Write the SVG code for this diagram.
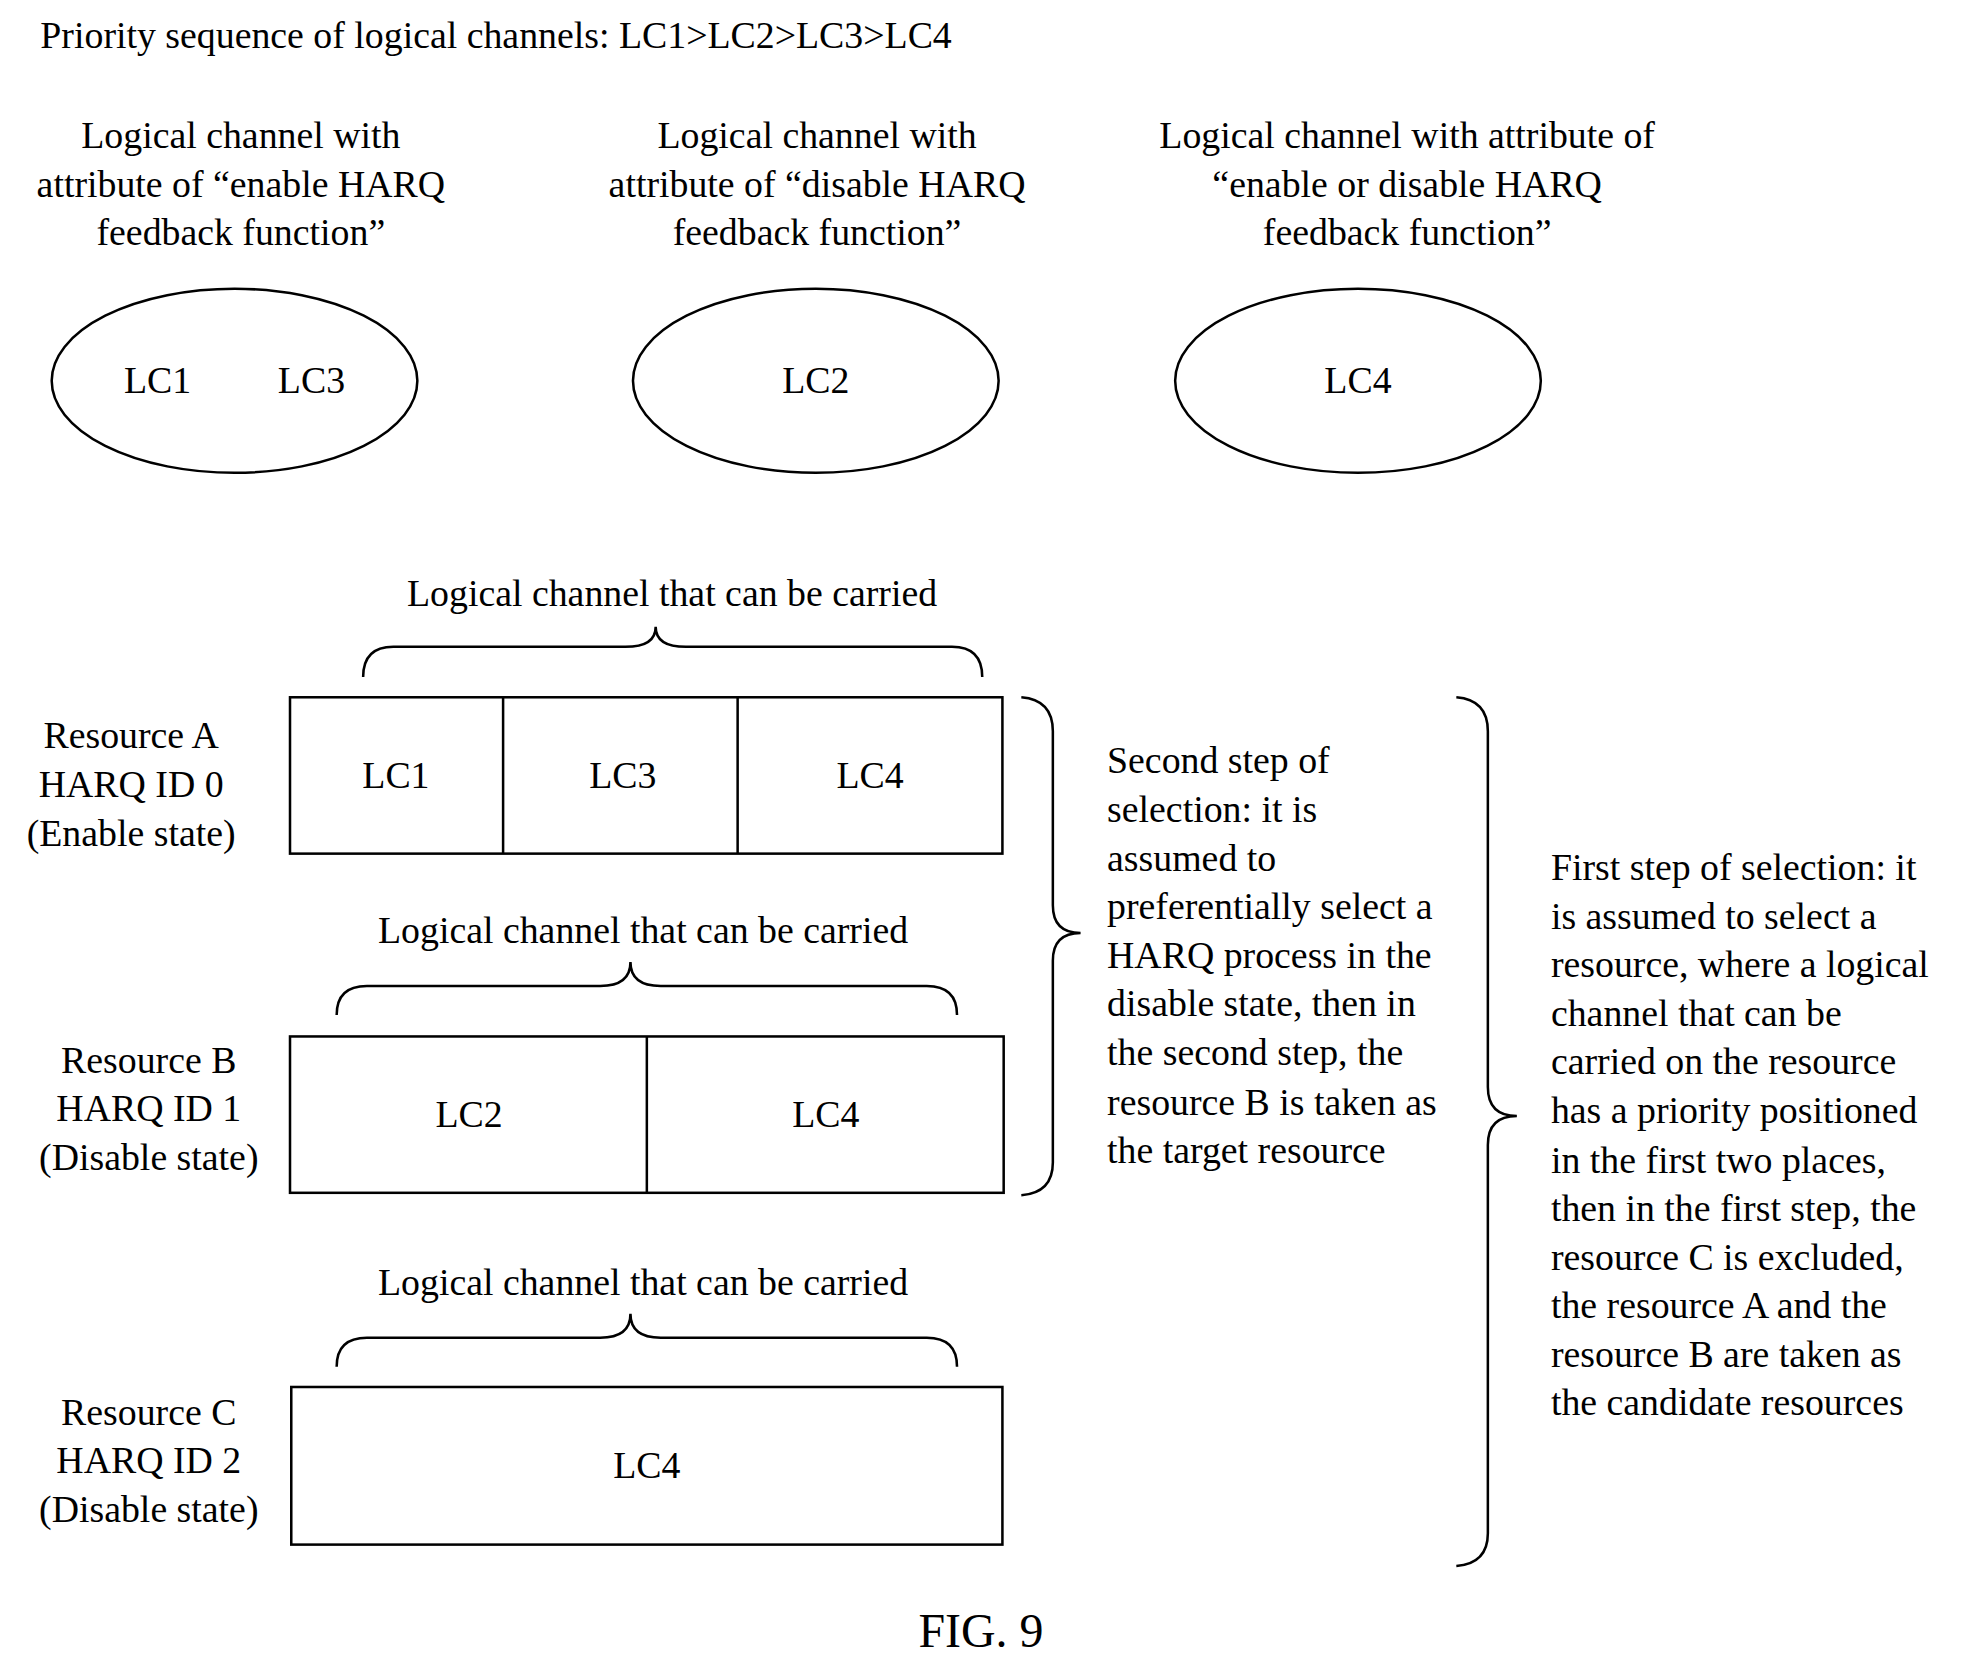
<svg xmlns="http://www.w3.org/2000/svg" width="1967" height="1661" viewBox="0 0 1967 1661">
<style>
text{font-family:"Liberation Serif","Times New Roman",serif;font-size:30px;fill:#000}
.c{text-anchor:middle}
.s{fill:none;stroke:#000;stroke-width:2}
</style>
<rect width="1967" height="1661" fill="#fff"/>
<g transform="scale(1.2609)">
<g id="title"><text x="32" y="38">Priority sequence of logical channels: LC1&gt;LC2&gt;LC3&gt;LC4</text></g>
<g id="attr1"><text class="c" x="191" y="117">Logical channel with</text><text class="c" x="191" y="156">attribute of “enable HARQ</text><text class="c" x="191" y="194">feedback function”</text></g>
<g id="attr2"><text class="c" x="648" y="117">Logical channel with</text><text class="c" x="648" y="156">attribute of “disable HARQ</text><text class="c" x="648" y="194">feedback function”</text></g>
<g id="attr3"><text class="c" x="1116" y="117">Logical channel with attribute of</text><text class="c" x="1116" y="156">“enable or disable HARQ</text><text class="c" x="1116" y="194">feedback function”</text></g>
<g id="set1"><ellipse class="s" cx="186" cy="302" rx="145" ry="73"/><text class="c" x="125" y="312">LC1</text><text class="c" x="247" y="312">LC3</text></g>
<g id="set2"><ellipse class="s" cx="647" cy="302" rx="145" ry="73"/><text class="c" x="647" y="312">LC2</text></g>
<g id="set3"><ellipse class="s" cx="1077" cy="302" rx="145" ry="73"/><text class="c" x="1077" y="312">LC4</text></g>

<g id="resA">
<text class="c" x="533" y="481">Logical channel that can be carried</text>
<path class="s" d="M288,537 Q288,513 312,513 L496,513 Q520,513 520,497 Q520,513 544,513 L755,513 Q779,513 779,537"/>
<rect class="s" x="230" y="553" width="565" height="124"/>
<line class="s" x1="399" y1="553" x2="399" y2="677"/><line class="s" x1="585" y1="553" x2="585" y2="677"/>
<text class="c" x="314" y="625">LC1</text><text class="c" x="494" y="625">LC3</text><text class="c" x="690" y="625">LC4</text>
<text class="c" x="104" y="593">Resource A</text><text class="c" x="104" y="632">HARQ ID 0</text><text class="c" x="104" y="671">(Enable state)</text>
</g>
<g id="resB">
<text class="c" x="510" y="748">Logical channel that can be carried</text>
<path class="s" d="M267,805 Q267,782 291,782 L476,782 Q500,782 500,763 Q500,782 524,782 L735,782 Q759,782 759,805"/>
<rect class="s" x="230" y="822" width="566" height="124"/>
<line class="s" x1="513" y1="822" x2="513" y2="946"/>
<text class="c" x="372" y="894">LC2</text><text class="c" x="655" y="894">LC4</text>
<text class="c" x="118" y="851">Resource B</text><text class="c" x="118" y="889">HARQ ID 1</text><text class="c" x="118" y="928">(Disable state)</text>
</g>
<g id="resC">
<text class="c" x="510" y="1027">Logical channel that can be carried</text>
<path class="s" d="M267,1084 Q267,1061 291,1061 L476,1061 Q500,1061 500,1042 Q500,1061 524,1061 L735,1061 Q759,1061 759,1084"/>
<rect class="s" x="231" y="1100" width="564" height="125"/>
<text class="c" x="513" y="1172">LC4</text>
<text class="c" x="118" y="1130">Resource C</text><text class="c" x="118" y="1168">HARQ ID 2</text><text class="c" x="118" y="1207">(Disable state)</text>
</g>
<g id="connectors">
<path class="s" d="M810,553 Q835,555 835,580 L835,718 Q835,740 857,740 Q835,740 835,762 L835,922 Q835,946 810,948"/>
<path class="s" d="M1155,553 Q1180,555 1180,580 L1180,862 Q1180,885 1203,885 Q1180,885 1180,908 L1180,1216 Q1180,1240 1155,1242"/>
</g>
<g id="step2">
<text x="878" y="613">Second step of</text><text x="878" y="652">selection: it is</text><text x="878" y="691">assumed to</text><text x="878" y="729">preferentially select a</text><text x="878" y="768">HARQ process in the</text><text x="878" y="806">disable state, then in</text><text x="878" y="845">the second step, the</text><text x="878" y="884">resource B is taken as</text><text x="878" y="922">the target resource</text>
</g>
<g id="step1">
<text x="1230" y="698">First step of selection: it</text><text x="1230" y="737">is assumed to select a</text><text x="1230" y="775">resource, where a logical</text><text x="1230" y="814">channel that can be</text><text x="1230" y="852">carried on the resource</text><text x="1230" y="891">has a priority positioned</text><text x="1230" y="930">in the first two places,</text><text x="1230" y="968">then in the first step, the</text><text x="1230" y="1007">resource C is excluded,</text><text x="1230" y="1045">the resource A and the</text><text x="1230" y="1084">resource B are taken as</text><text x="1230" y="1122">the candidate resources</text>
</g>
<g id="caption"><text class="c" x="778" y="1306" style="font-size:38px">FIG. 9</text></g>
</g>
</svg>
